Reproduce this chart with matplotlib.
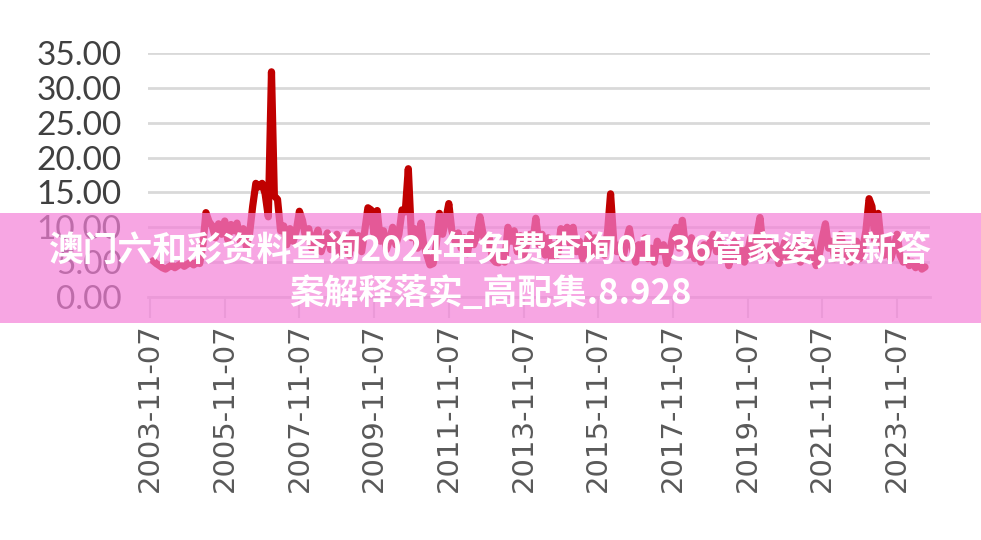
import matplotlib
matplotlib.use("Agg")
import matplotlib.pyplot as plt
import matplotlib.dates as mdates
import pandas as pd
from matplotlib.patches import Rectangle

# Monthly values, starting 2003-11
y2003 = [5.2, 4.8]
y2004 = [4.5, 4.2, 4.0, 4.3, 4.6, 4.2, 4.5, 4.8, 4.4, 4.7, 5.0, 4.6]
y2005 = [5.0, 4.8, 7.5, 12.1, 10.8, 10.2, 8.5, 10.5, 9.0, 10.9, 8.2, 10.4]
y2006 = [9.5, 10.6, 8.0, 9.8, 7.2, 9.0, 13.0, 16.3, 15.8, 16.3, 14.8, 11.5]
y2007 = [32.3, 14.5, 14.0, 9.5, 10.2, 7.5, 9.8, 8.0, 9.5, 12.3, 11.0, 8.5]
y2008 = [9.8, 7.0, 8.5, 9.6, 6.5, 8.0, 9.2, 6.8, 7.5, 9.0, 6.2, 7.8]
y2009 = [8.5, 6.0, 9.2, 7.0, 8.8, 6.5, 9.5, 12.8, 12.5, 9.0, 12.4, 8.0]
y2010 = [9.5, 6.8, 8.2, 10.0, 7.5, 9.0, 12.5, 12.2, 18.4, 8.5, 9.8, 7.0]
y2011 = [10.6, 7.5, 6.0, 4.6, 4.8, 7.5, 12.0, 9.0, 11.0, 13.4, 9.5, 8.0]
y2012 = [9.2, 7.0, 8.5, 6.2, 9.0, 7.5, 8.8, 11.5, 9.0, 7.0, 8.5, 5.5]
y2013 = [5.0, 4.9, 6.5, 5.0, 10.0, 8.0, 9.5, 6.5, 8.8, 6.0, 7.5, 9.0]
y2014 = [8.0, 11.3, 7.5, 9.0, 6.0, 8.5, 5.5, 7.5, 6.0, 9.8, 8.0, 10.0]
y2015 = [7.5, 10.0, 6.5, 8.0, 5.5, 7.0, 9.0, 6.0, 8.5, 6.5, 8.0, 6.0]
y2016 = [9.5, 14.8, 8.0, 6.5, 7.5, 5.5, 8.0, 9.8, 7.0, 5.0, 7.5, 6.0]
y2017 = [8.5, 5.5, 7.0, 5.0, 8.0, 6.5, 7.5, 4.8, 6.5, 9.0, 10.0, 7.0]
y2018 = [11.0, 7.5, 6.0, 8.5, 5.5, 7.0, 5.0, 7.5, 6.0, 8.0, 9.0, 6.5]
y2019 = [8.0, 5.5, 7.0, 4.5, 6.5, 8.0, 5.5, 7.0, 5.0, 6.5, 8.5, 6.0]
y2020 = [9.0, 11.4, 7.0, 5.5, 8.0, 6.0, 7.5, 4.8, 6.5, 8.0, 5.5, 7.0]
y2021 = [6.0, 8.5, 5.0, 7.0, 5.5, 8.0, 6.5, 4.5, 6.0, 8.5, 10.5, 7.0]
y2022 = [8.0, 5.5, 7.0, 9.0, 6.0, 7.5, 5.0, 6.5, 8.0, 5.5, 7.0, 9.5]
y2023 = [14.1, 13.0, 8.0, 12.0, 7.5, 6.0, 8.5, 5.5, 7.0, 9.0, 6.0, 5.0]
y2024 = [5.5, 4.5, 5.0, 4.2, 4.8, 4.0, 4.3]

values = (y2003 + y2004 + y2005 + y2006 + y2007 + y2008 + y2009 + y2010 +
          y2011 + y2012 + y2013 + y2014 + y2015 + y2016 + y2017 + y2018 +
          y2019 + y2020 + y2021 + y2022 + y2023 + y2024)
dates = pd.date_range("2003-11-07", periods=len(values), freq="MS") + pd.Timedelta(days=6)

tick_labels = ["2003-11-07", "2005-11-07", "2007-11-07", "2009-11-07", "2011-11-07",
               "2013-11-07", "2015-11-07", "2017-11-07", "2019-11-07", "2021-11-07",
               "2023-11-07"]
y_ticks = [0, 5, 10, 15, 20, 25, 30, 35]

banner_line1 = "澳门六和彩资料查询2024年免费查询01-36管家婆,最新答"
banner_line2 = "案解释落实_高配集.8.928"

fig = plt.figure(figsize=(9.81, 5.40), dpi=100)
ax = fig.add_axes([148 / 981, (540 - 297) / 540, (930 - 148) / 981, (297 - 53) / 540])

ax.plot(dates, values, color="#C00000", linewidth=5.2,
        solid_capstyle="round", solid_joinstyle="round", zorder=3)

tick_dates = pd.to_datetime(tick_labels)
ax.set_xticks(tick_dates)
ax.set_xticklabels(tick_labels, rotation=90, fontsize=21, color="#595959",
                   family="DejaVu Sans")
x0 = mdates.date2num(pd.Timestamp("2003-11-07"))
ppd = (897 - 150) / (mdates.date2num(pd.Timestamp("2023-11-07")) - x0)
ax.set_xlim(x0 - 2 / ppd, x0 + (930 - 150) / ppd)

ax.set_ylim(0, 35)
ax.set_yticks(y_ticks)
ax.set_yticklabels([f"{v:.2f}" for v in y_ticks], fontsize=24, color="#404040",
                   family="Lato")
ax.grid(axis="y", color="#D9D9D9", linewidth=2)
ax.set_axisbelow(True)
for s in ["top", "right", "left"]:
    ax.spines[s].set_visible(False)
ax.spines["bottom"].set_color("#D9D9D9")
ax.spines["bottom"].set_linewidth(2)
ax.tick_params(axis="y", length=0, pad=19)
ax.tick_params(axis="x", length=15, width=1.5, color="#D9D9D9", pad=4)

# pink banner overlay
fig.patches.append(Rectangle((0, (540 - 323) / 540), 1, (323 - 213) / 540,
                             transform=fig.transFigure, facecolor=(244 / 255, 128 / 255, 216 / 255),
                             alpha=0.7, edgecolor="none", zorder=10))
fig.text(490 / 981, (540 - 250) / 540, banner_line1, ha="center", va="center",
         fontsize=25, color="white", fontweight="heavy",
         family=["Noto Sans CJK SC", "DejaVu Sans"], zorder=11)
fig.text(490 / 981, (540 - 293) / 540, banner_line2, ha="center", va="center",
         fontsize=25, color="white", fontweight="heavy",
         family=["Noto Sans CJK SC", "DejaVu Sans"], zorder=11)

fig.savefig("out.png", dpi=100, facecolor="white")
